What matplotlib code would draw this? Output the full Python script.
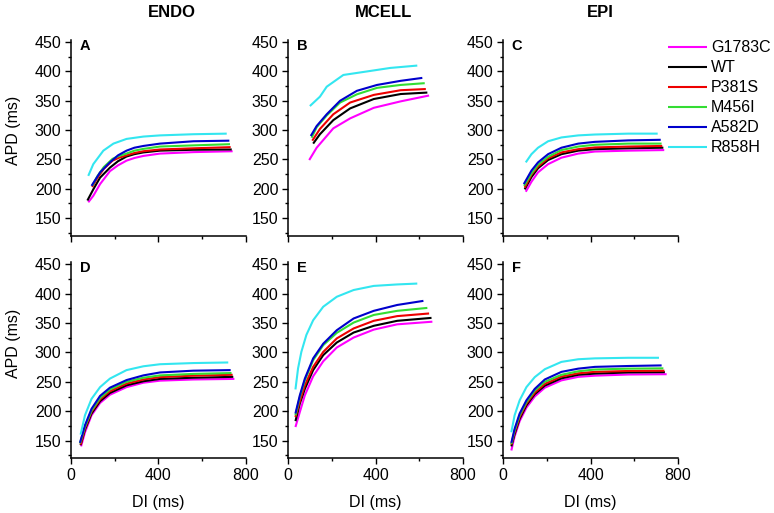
import matplotlib
matplotlib.use("Agg")
import matplotlib.pyplot as plt
from matplotlib.ticker import MultipleLocator

plt.rcParams['font.family'] = ['Liberation Sans', 'DejaVu Sans']

# ----------------- data -----------------
variants = ['G1783C', 'WT', 'P381S', 'M456I', 'A582D', 'R858H']
colors = ['#ff00ff', '#000000', '#ee0000', '#33dd33', '#0000cc', '#33e6f0']
columns = ['ENDO', 'MCELL', 'EPI']
letters = ['A', 'B', 'C', 'D', 'E', 'F']

# panel A (ENDO, top)
di_A = [
    [79, 102, 133, 178, 215, 254, 290, 331, 407, 560, 739],
    [75, 102, 133, 178, 215, 254, 290, 331, 407, 560, 735],
    [97, 120, 150, 190, 220, 254, 290, 331, 407, 560, 730],
    [97, 120, 150, 190, 220, 254, 290, 331, 407, 560, 727],
    [94, 133, 178, 215, 254, 290, 331, 407, 560, 724],
    [79, 102, 148, 194, 254, 331, 407, 560, 712],
]
apd_A = [
    [177, 188, 208, 230, 240, 248, 252.5, 256, 260, 262.5, 264],
    [180, 199, 219, 236, 247, 255, 259, 262, 265, 266.5, 267],
    [203, 218, 234, 248, 253, 257, 261, 264, 267, 269, 271],
    [205, 221, 237, 251, 256, 260, 265, 268, 272, 274, 276],
    [205, 228, 245, 257, 265, 270, 273, 277, 281, 282],
    [222, 242, 265, 277, 285, 289, 291, 293, 294],
]

# panel B (MCELL, top)
di_B = [
    [97, 131, 207, 284, 392, 515, 645],
    [115, 146, 207, 284, 392, 515, 637],
    [111, 146, 207, 284, 392, 515, 630],
    [108, 131, 177, 238, 315, 407, 515, 625],
    [104, 131, 177, 238, 315, 407, 515, 614],
    [100, 146, 177, 253, 361, 468, 591],
]
apd_B = [
    [249, 270, 303, 320, 338, 349, 359],
    [277, 293, 317, 337, 353, 361.5, 364],
    [282, 302, 327, 347, 360, 368, 370],
    [287, 305, 325, 347, 361, 372, 377, 380],
    [290, 307, 327, 350, 367, 377, 384, 389],
    [341, 357, 374, 394, 400, 406, 410],
]

# panel C (EPI, top)
di_C = [
    [104, 130, 160, 206, 267, 344, 420, 573, 737],
    [99, 130, 160, 206, 267, 344, 420, 573, 733],
    [99, 130, 160, 206, 267, 344, 420, 573, 728],
    [96, 130, 160, 206, 267, 344, 420, 573, 725],
    [95, 130, 160, 206, 267, 344, 420, 573, 721],
    [104, 130, 160, 206, 267, 344, 420, 573, 707],
]
apd_C = [
    [195, 212, 228, 242, 253, 260, 263.5, 265, 266],
    [199, 220, 235, 249, 259, 265, 267.5, 269, 270],
    [202, 224, 238, 252, 262, 267.5, 270.5, 272, 273],
    [205, 226, 241, 254.5, 266, 272, 275, 277, 277],
    [208, 231, 245, 259, 270, 277, 280, 282.5, 283.5],
    [245, 259, 270, 281, 287.5, 291, 292.5, 294, 294],
]

# panel D (ENDO, bottom)
di_D = [
    [46, 64, 94, 133, 178, 254, 331, 407, 559, 747],
    [44, 64, 94, 133, 178, 254, 331, 407, 559, 742],
    [44, 64, 94, 133, 178, 254, 331, 407, 559, 739],
    [41, 64, 94, 133, 178, 254, 331, 407, 559, 734],
    [41, 64, 94, 133, 178, 254, 331, 407, 559, 730],
    [44, 64, 94, 133, 178, 254, 331, 407, 559, 719],
]
apd_D = [
    [140, 164, 193, 214, 228, 241, 248.5, 252, 254, 255],
    [142, 168.5, 196, 217, 231, 244, 251, 255, 257, 258.5],
    [143, 171, 199, 220, 234, 247, 254, 258, 260.5, 262],
    [145, 173.5, 201, 222.5, 237, 250, 257, 261, 263.5, 265],
    [146, 176, 204, 226, 240, 253, 261, 266, 269, 270],
    [160, 193, 221, 241, 255.5, 270, 276.5, 280, 282, 283],
]

# panel E (MCELL, bottom)
di_E = [
    [34, 54, 77, 115, 161, 223, 300, 392, 499, 660],
    [34, 54, 77, 115, 161, 223, 300, 392, 499, 656],
    [34, 54, 77, 115, 161, 223, 300, 392, 499, 645],
    [34, 54, 77, 115, 161, 223, 300, 392, 499, 637],
    [34, 54, 77, 115, 161, 223, 300, 392, 499, 619],
    [34, 46, 61, 84, 115, 161, 223, 300, 392, 499, 591],
]
apd_E = [
    [173, 198.5, 227, 259.5, 285, 308.5, 325.5, 339, 348, 352.5],
    [183, 213, 238, 270, 295.5, 317, 334, 345.5, 354, 359],
    [190, 217, 244, 275.5, 301, 324, 341, 354, 362, 366.5],
    [193, 224, 252.5, 287, 312.5, 333.5, 351, 364, 371, 376],
    [196, 227, 255.5, 290, 315, 338, 358, 371, 381, 388],
    [237, 273, 301, 330, 355, 378, 395, 406.5, 413.5, 416, 417.5],
]

# panel F (EPI, bottom)
di_F = [
    [38, 53, 76, 107, 145, 191, 267, 344, 420, 573, 748],
    [38, 53, 76, 107, 145, 191, 267, 344, 420, 573, 740],
    [38, 53, 76, 107, 145, 191, 267, 344, 420, 573, 738],
    [38, 53, 76, 107, 145, 191, 267, 344, 420, 573, 733],
    [38, 53, 76, 107, 145, 191, 267, 344, 420, 573, 725],
    [38, 53, 76, 107, 145, 191, 267, 344, 420, 573, 713],
]
apd_F = [
    [133, 157, 183, 206, 225, 240, 252.5, 258.5, 260.5, 262.5, 263],
    [140, 161, 187, 210, 229, 243.5, 256, 262, 264, 266, 266.5],
    [143, 164, 190, 213, 231.5, 246.5, 259, 264.5, 267, 268.5, 269],
    [144, 167, 193, 215.5, 235, 250, 262, 268, 271, 272.5, 273],
    [146, 170, 196, 218.5, 238, 254, 267, 272.5, 275.5, 277, 278],
    [164, 193, 218.5, 241, 258, 271.5, 284, 288.5, 290, 291, 291],
]

panel_di = [di_A, di_B, di_C, di_D, di_E, di_F]
panel_apd = [apd_A, apd_B, apd_C, apd_D, apd_E, apd_F]

# ----------------- figure -----------------
fig = plt.figure(figsize=(7.74, 5.13), dpi=100)

lefts = [0.0917, 0.3721, 0.6499]
bottoms = [0.5405, 0.107]
w, h = 0.2261, 0.382

axes = []
for r in range(2):
    for c in range(3):
        i = r * 3 + c
        ax = fig.add_axes([lefts[c], bottoms[r], w, h])
        for k in range(len(variants)):
            ax.plot(panel_di[i][k], panel_apd[i][k], color=colors[k], lw=1.5,
                    label=variants[k], solid_capstyle='butt',
                    solid_joinstyle='round')
        ax.set_xlim(0, 800)
        ax.set_ylim(120, 454)
        ax.set_xticks([0, 400, 800])
        ax.xaxis.set_minor_locator(MultipleLocator(200))
        ax.set_yticks([150, 200, 250, 300, 350, 400, 450])
        ax.set_yticks([125, 175, 225, 275, 325, 375, 425], minor=True)
        for s in ['top', 'right']:
            ax.spines[s].set_visible(False)
        for s in ['left', 'bottom']:
            ax.spines[s].set_linewidth(1.1)
        ax.tick_params(which='major', direction='out', length=4, width=1,
                       labelsize=11.5, pad=3)
        ax.tick_params(which='minor', direction='out', length=2.5, width=1)
        if r == 0:
            ax.tick_params(labelbottom=False)
        ax.text(0.05, 1.005, letters[i], transform=ax.transAxes, fontsize=10.5,
                fontweight='bold', va='top', ha='left')
        axes.append(ax)

# column titles
for x, name in zip([0.222, 0.496, 0.775], columns):
    fig.text(x, 0.967, name, fontsize=12, fontweight='bold', ha='center',
             va='baseline')

# axis labels
fig.text(0.018, 0.745, 'APD (ms)', rotation=90, ha='center', va='center',
         fontsize=11.5)
fig.text(0.018, 0.330, 'APD (ms)', rotation=90, ha='center', va='center',
         fontsize=11.5)
for c in range(3):
    fig.text(lefts[c] + w / 2, 0.0214, 'DI (ms)', ha='center', va='center',
             fontsize=11.5)

# legend
handles, labels = axes[2].get_legend_handles_labels()
fig.legend(handles, labels, loc='upper left',
           bbox_to_anchor=(668 / 774, 1 - 40.5 / 513),
           frameon=False, borderpad=0, borderaxespad=0, handlelength=2.45,
           handletextpad=0.25, labelspacing=0.31, fontsize=11.5)

fig.savefig('out.png', dpi=100)
